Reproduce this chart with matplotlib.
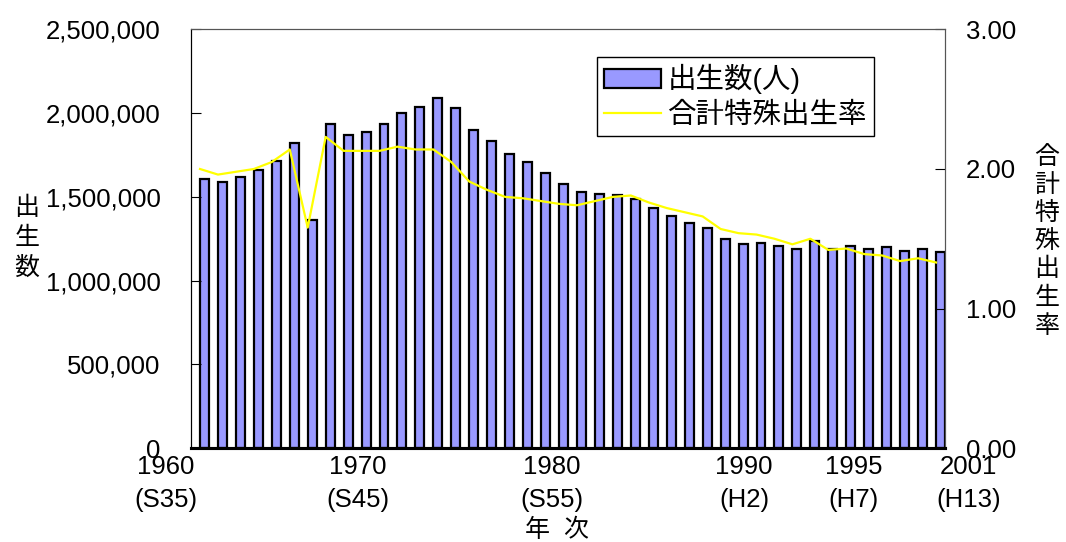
import matplotlib
matplotlib.use('Agg')
import matplotlib.pyplot as plt
from matplotlib.ticker import FuncFormatter

plt.rcParams['font.family'] = ['Liberation Sans', 'Noto Sans CJK JP']

# 出生数と合計特殊出生率 (1960-2001)
years = list(range(1960, 2002))
births = [1606041, 1589372, 1618616, 1659521, 1716761, 1823697, 1360974, 1935647,
          1871839, 1889815, 1934239, 2000973, 2038682, 2091983, 2029989, 1901440,
          1832617, 1755100, 1708643, 1642580, 1576889, 1529455, 1515392, 1508687,
          1489780, 1431577, 1382946, 1346658, 1314006, 1246802, 1221585, 1223245,
          1208989, 1188282, 1238328, 1187064, 1206555, 1191665, 1203147, 1177669,
          1190547, 1170662]
tfr = [2.00, 1.96, 1.98, 2.00, 2.05, 2.14, 1.58, 2.23, 2.13, 2.13, 2.13, 2.16,
       2.14, 2.14, 2.05, 1.91, 1.85, 1.80, 1.79, 1.77, 1.75, 1.74, 1.77, 1.80,
       1.81, 1.76, 1.72, 1.69, 1.66, 1.57, 1.54, 1.53, 1.50, 1.46, 1.50, 1.42,
       1.43, 1.39, 1.38, 1.34, 1.36, 1.33]

# 横軸の目盛り文字
year_labels = ['1960', '1970', '1980', '1990', '1995', '2001']
era_labels = ['(S35)', '(S45)', '(S55)', '(H2)', '(H7)', '(H13)']
label_pos = [1958.1, 1968.8, 1979.6, 1990.3, 1996.4, 2002.8]

fig = plt.figure(figsize=(10.66, 5.42), dpi=100)
ax = fig.add_axes([0.1792, 0.1734, 0.7073, 0.7722])

ax.bar(years, births, width=0.5, align='edge', color='#9999FF',
       edgecolor='black', linewidth=1.6, label='出生数(人)')
ax.set_xlim(1959.5, 2001.5)
ax.set_ylim(0, 2500000)
ax.set_yticks([0, 500000, 1000000, 1500000, 2000000, 2500000])
ax.yaxis.set_major_formatter(FuncFormatter(lambda v, p: f'{v:,.0f}'))
ax.set_xticks([])
ax.tick_params(axis='y', direction='in', length=7, labelsize=18.5, pad=22)

ax2 = ax.twinx()
ax2.plot(years, tfr, color='#FFFF00', linewidth=1.6, label='合計特殊出生率')
ax2.set_ylim(0, 3)
ax2.set_yticks([0, 1, 2, 3])
ax2.yaxis.set_major_formatter(FuncFormatter(lambda v, p: f'{v:.2f}'))
ax2.tick_params(axis='y', direction='in', length=7, labelsize=18.5, pad=15)

for a in (ax, ax2):
    a.spines['top'].set_color('#555555')
    a.spines['right'].set_color('#555555')
    a.spines['left'].set_color('black')
    a.spines['bottom'].set_color('black')
    a.spines['bottom'].set_linewidth(2.2)

for x, yl, el in zip(label_pos, year_labels, era_labels):
    ax.text(x, -0.045, yl, transform=ax.get_xaxis_transform(), ha='center',
            va='center', fontsize=18.5, clip_on=False)
    ax.text(x, -0.124, el, transform=ax.get_xaxis_transform(), ha='center',
            va='center', fontsize=18.5, clip_on=False)

fig.text(0.5225, 0.022, '年  次', ha='center', va='center', fontsize=18)
fig.text(0.0253, 0.561, '出\n生\n数', ha='center', va='center', fontsize=18,
         linespacing=1.3)
fig.text(0.982, 0.555, '合\n計\n特\n殊\n出\n生\n率', ha='center', va='center',
         fontsize=18, linespacing=1.22)

h1, l1 = ax.get_legend_handles_labels()
h2, l2 = ax2.get_legend_handles_labels()
leg = ax2.legend(h1 + h2, l1 + l2, loc='upper left', bbox_to_anchor=(0.538, 0.934),
                 fontsize=20.5, fancybox=False, framealpha=1, edgecolor='black',
                 borderpad=0.25, labelspacing=0.3, handlelength=2.0,
                 handleheight=0.65, handletextpad=0.25, borderaxespad=0)
leg.get_frame().set_linewidth(1.0)

fig.savefig('out.png', dpi=100)
